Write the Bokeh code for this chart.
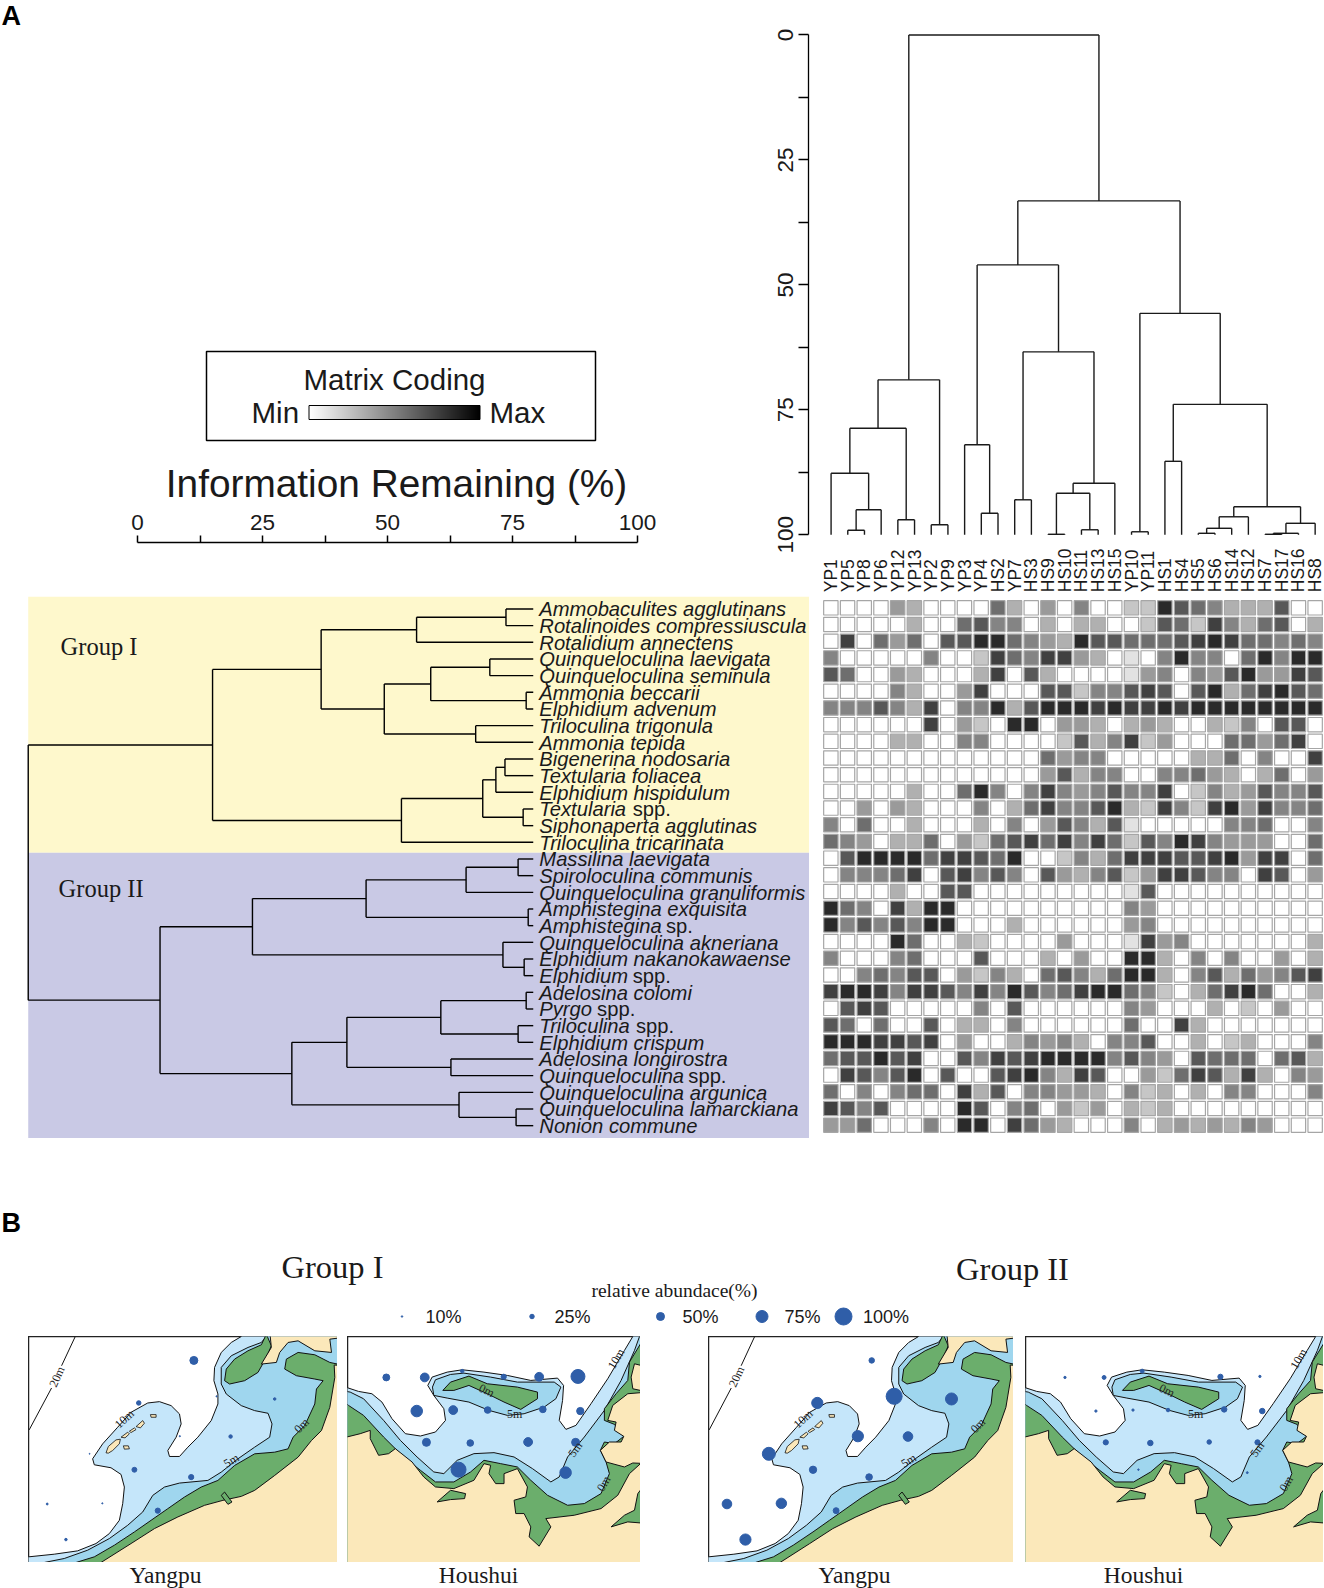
import numpy as np
from bokeh.embed import file_html
from bokeh.resources import INLINE
from bokeh.plotting import figure
from bokeh.layouts import column, row
from bokeh.models import Range1d, FixedTicker, LinearAxis
from bokeh.core.properties import value
from bokeh.palettes import Greys256

SAMPLES = ["YP1","YP5","YP8","YP6","YP12","YP13","YP2","YP9","YP3","YP4","HS2","YP7","HS3","HS9","HS10",
           "HS11","HS13","HS15","YP10","YP11","HS1","HS4","HS5","HS6","HS14","HS12","HS7","HS17","HS16","HS8"]
SAMPLE_MERGES = [(-2,-3,99.1),(1,-4,95.0),(-1,2,87.7),(-5,-6,97.0),(3,4,78.7),(-7,-8,98.0),(5,6,69.0),
    (-10,-11,95.7),(-9,8,82.0),(-12,-13,93.0),(-14,-15,99.9),(-16,-17,99.0),(11,12,91.7),(13,-18,89.7),
    (10,14,63.4),(9,15,46.0),(-19,-20,99.4),(-21,-22,85.3),(-23,-24,99.7),(19,-25,98.7),(20,-26,96.4),
    (-27,-28,99.9),(22,-29,99.7),(23,-30,97.7),(21,24,94.4),(18,25,73.9),(17,26,55.7),(16,27,33.2),(7,28,0.0)]

SPECIES = ["Ammobaculites agglutinans","Rotalinoides compressiuscula","Rotalidium annectens","Quinqueloculina laevigata",
    "Quinqueloculina seminula","Ammonia beccarii","Elphidium advenum","Triloculina trigonula","Ammonia tepida",
    "Bigenerina nodosaria","Textularia foliacea","Elphidium hispidulum","Textularia","Siphonaperta agglutinas",
    "Triloculina tricarinata","Massilina laevigata","Spiroloculina communis","Quinqueloculina granuliformis",
    "Amphistegina exquisita","Amphistegina","Quinqueloculina akneriana","Elphidium nakanokawaense","Elphidium",
    "Adelosina colomi","Pyrgo","Triloculina","Elphidium crispum","Adelosina longirostra","Quinqueloculina",
    "Quinqueloculina argunica","Quinqueloculina lamarckiana","Nonion commune"]
SUFFIX = {12:("spp.",93.4),19:("sp.",126.7),22:("spp.",93.4),24:("spp.",57.8),25:("spp.",96.7),28:("spp.",149.0)}
SPECIES_MERGES = [(-1,-2,94.6),(1,-3,76.9),(-4,-5,91.4),(-6,-7,98.6),(3,4,79.7),(-8,-9,88.6),(5,6,70.5),(2,7,58.0),
    (-10,-11,94.4),(9,-12,92.6),(-13,-14,98.0),(10,11,90.0),(12,-15,73.9),(8,13,36.5),(-16,-17,97.0),(15,-18,86.7),
    (-19,-20,99.0),(16,17,66.9),(-22,-23,98.2),(-21,19,94.0),(18,20,44.4),(-24,-25,98.6),(-26,-27,97.0),(22,23,81.7),
    (-28,-29,83.7),(24,25,63.1),(-31,-32,96.6),(-30,27,85.3),(26,28,52.2),(21,29,26.1),(14,30,0.0)]

# darkness of each matrix cell, 0 (min) .. 9 (max)
MATRIX = [
"0000430000 6304050022 9765333700","0000030067 5503033002 7628536703","0806460779 9654397766 6789866565",
"5000005002 8658843010 5955069599","7600430003 8073000014 5054794487","0000530048 0007725578 7079368976",
"5557538055 9379998988 9899999999","0000008042 0990443034 3003250770","0000330055 0000273582 4000664680",
"0000000000 0006455000 0033605008","0000000000 0004735500 5564303604","0000030069 5058545755 8025347557",
"0040430005 0368557932 8528948556","5060030003 0504753710 0000556005","6540336042 6786858627 5985444006",
"0799996887 6900253688 8778948806","0555680785 7507435724 8875508704","0000300770 0000000017 0000000000",
"9650839900 0000000054 0000000000","9575759900 0300000045 0000000000","0000960032 0000400018 4500000003",
"5000560007 0003040099 3050500403","0056577042 5306753699 3057364578","8998588758 5975689965 2036896003",
"0787000005 0700000054 0003020400","7606007033 0500000060 0830000000","9998878040 0354530557 0030230005",
"6779780075 8789999575 4076660673","0875790700 7895387004 2687383054","6050566083 7055443052 3030550005",
"8757000097 0560424032 3000000000","4460005099 0864300050 3434354000"]
GRAYS = ["#ffffff","#e2e2e2","#c6c6c6","#b0b0b0","#9a9a9a","#848484","#6e6e6e","#585858","#404040","#2a2a2a"]

YP_X = [518,353,760,586,628,476,206,340,510,410,244,79,135]
YP_Y = [89,217,205,197,318,317,370,418,440,541,519,521,628]
YP_GROUP1 = [50,25,15,8,20,8,6,28,30,30,8,12,15]
YP_GROUP2 = [32,70,75,95,60,70,80,45,40,35,65,60,70]
HS_X = [138,253,365,489,595,711,229,338,441,606,718,258,389,562,704,354,674]
HS_Y = [141,141,122,139,139,138,242,239,239,237,242,336,338,335,336,418,427]
HS_GROUP1 = [42,55,20,30,55,85,72,55,40,40,45,50,40,55,50,90,72]
HS_GROUP2 = [14,22,22,0,30,14,14,14,20,32,32,30,32,25,30,10,12]
LEGEND_PCT = [10,25,50,75,100]

YP_10M = [(660,17),(630,35),(600,65),(580,110),(578,150),(590,190),(590,220),(570,270),(530,320),(500,350),(475,378),(445,378),(440,360),(465,320),(480,280),(475,250),(450,225),(415,213),(380,217),(330,245),(290,290),(245,340),(215,385),(220,403),(270,412),(300,432),(310,470),(305,520),(295,570),(265,610),(225,640),(170,662),(100,672),(23,680),(0,684),(0,720),(980,720),(980,0),(660,0)]
YP_5M = [(735,0),(735,17),(720,35),(680,50),(630,75),(600,110),(600,160),(615,190),(660,225),(700,240),(740,248),(752,280),(745,320),(700,350),(650,385),(600,425),(560,450),(475,458),(430,470),(395,495),(365,545),(320,585),(265,625),(200,660),(130,685),(70,697),(70,720),(980,720),(980,0)]
YP_GREEN = [(980,104),(948,100),(925,95),(880,72),(830,65),(795,85),(790,115),(825,135),(880,145),(905,150),(885,175),(880,220),(850,285),(815,320),(800,355),(760,365),(700,370),(640,405),(590,450),(540,470),(490,500),(440,535),(390,570),(340,605),(280,645),(220,680),(165,697),(165,720),(980,720)]
YP_LAND = [(225,720),(240,697),(330,640),(400,595),(470,560),(550,525),(605,510),(660,498),(700,480),(760,435),(830,380),(870,330),(900,300),(925,230),(940,140),(938,103),(980,104),(980,720)]
YP_LAND_N = [(745,0),(750,50),(720,100),(765,95),(775,65),(800,35),(830,30),(880,60),(930,65),(925,25),(980,18),(980,0)]
YP_PENINSULA = [(735,10),(750,45),(735,80),(710,125),(670,150),(625,160),(610,150),(615,115),(640,85),(680,60),(720,42)]
YP_SPIT = [(600,495),(610,485),(632,515),(620,522)]
YP_ISLES = [[(255,367),(262,348),(285,328),(298,326),(295,340),(275,360),(262,368)],[(300,320),(320,305),(325,310),(312,322)],
            [(325,302),(340,292),(345,297),(330,306)],[(345,288),(365,270),(370,278),(358,292)],
            [(388,252),(405,252),(405,260),(390,260)],[(307,346),(322,346),(325,355),(310,356)]]
YP_20M_X, YP_20M_Y = [[25,92],[122,163]], [[298,172],[105,17]]

HS_10M = [(0,175),(22,172),(55,183),(95,190),(125,215),(155,265),(195,310),(240,317),(285,305),(315,270),(310,235),(280,195),(262,165),(275,140),(320,125),(365,118),(430,125),(500,135),(570,150),(650,143),(668,165),(665,210),(655,270),(675,297),(705,285),(750,220),(800,145),(850,60),(875,18),(880,0),(920,0),(920,720),(0,720)]
HS_5M_ISLAND = [(276,170),(285,148),(330,132),(370,128),(450,140),(530,155),(640,155),(660,170),(645,205),(610,230),(550,250),(500,255),(445,240),(385,215),(320,203),(280,195)]
HS_5M = [(0,180),(30,185),(70,205),(130,270),(180,330),(230,380),(280,425),(310,430),(350,390),(400,370),(460,367),(520,380),(575,415),(630,455),(655,440),(680,380),(730,320),(790,240),(840,150),(880,60),(895,18),(920,0),(920,720),(0,720)]
HS_GREEN = [(0,205),(25,225),(70,255),(130,320),(190,380),(240,420),(285,455),(340,455),(390,425),(430,390),(480,400),(530,410),(570,450),(620,495),(680,525),(730,520),(780,490),(805,430),(795,395),(778,360),(790,335),(820,340),(848,318),(820,282),(790,270),(790,235),(825,190),(860,150),(865,95),(898,40),(920,30),(920,720),(0,720)]
HS_LAND = [(0,325),(60,310),(90,300),(90,325),(115,375),(145,370),(165,355),(215,395),(250,440),(285,470),(340,475),(400,450),(430,400),(450,405),(445,430),(465,460),(490,460),(490,430),(530,415),(560,470),(555,500),(520,510),(525,550),(550,550),(570,590),(565,620),(595,648),(630,590),(615,565),(700,555),(780,535),(830,495),(865,430),(898,400),(920,400),(920,720),(0,720)]
HS_LAND_E = [(920,185),(860,190),(815,225),(800,270),(825,275),(820,300),(848,318),(840,335),(805,335),(778,360),(795,395),(850,410),(875,398),(920,400)]
HS_LAND_NE = [(920,110),(880,100),(870,140),(875,175),(920,185)]
HS_SPIT = [(290,515),(330,480),(375,490),(372,505),(330,508)]
HS_PATCH = [(810,590),(850,555),(880,540),(890,490),(920,450),(920,580),(860,575)]
HS_ISLAND = [(307,180),(330,155),(385,137),(440,160),(530,170),(590,185),(590,205),(540,237),(490,215),(440,190),(385,165),(340,180)]
YP_TAGS = [("20m",108,138,1.15),("10m",310,265,0.75),("5m",630,390,0.55),("0m",840,285,0.8)]
HS_TAGS = [("0m",438,180,-0.45),("5m",522,252,0.0),("10m",825,85,1.05),("5m",703,357,0.95),("0m",788,460,1.05)]

SANS, SERIF = "Liberation Sans", "Liberation Serif"
LIGHT, MID, GREEN, LAND, DOT = "#c5e6fa", "#9fd6ee", "#6bae6c", "#fbe8ba", "#2f5ea8"


def tree_segments(merges, n_leaves_height):
    """hclust-style merge table -> U shaped segments (position, height)."""
    pos, hgt, seg = {}, {}, []
    for k, (a, b, h) in enumerate(merges, 1):
        pa = -a - 1 if a < 0 else pos[a]
        pb = -b - 1 if b < 0 else pos[b]
        ha = n_leaves_height if a < 0 else hgt[a]
        hb = n_leaves_height if b < 0 else hgt[b]
        seg += [(pa, ha, pa, h), (pa, h, pb, h), (pb, h, pb, hb)]
        pos[k], hgt[k] = (pa + pb) / 2, h
    return np.array(seg, dtype=float)


def bare(w, h, xr, yr, **kw):
    p = figure(width=w, height=h, x_range=xr, y_range=yr, x_axis_type=None, y_axis_type=None,
               toolbar_location=None, output_backend="svg", outline_line_color=None, min_border=0,
               frame_align=False, **kw)
    p.grid.visible = False
    return p


def txt(p, x, y, s, font=SANS, size=18, align="left", base="middle", style="normal", color="#1a1a1a", angle=0):
    p.text([x], [y], [s], text_font=value(font), text_font_size=f"{size}px", text_align=align,
           text_baseline=base, text_font_style=style, text_color=color, angle=angle)


# ---- top-left: legend box and title
lg = bare(760, 510, Range1d(0, 760), Range1d(510, 0))
txt(lg, 1, 15, "A", size=27, style="bold", color="black")
lg.quad(left=[206], right=[595], top=[351], bottom=[440], fill_color=None, line_color="black", line_width=1.5)
txt(lg, 394, 379, "Matrix Coding", size=29.5, align="center")
txt(lg, 251, 412, "Min", size=29.5)
txt(lg, 489, 412, "Max", size=29.5)
lg.image(image=[np.linspace(0, 1, 256).reshape(1, -1)], x=308.5, y=405, dw=171, dh=14, palette=list(Greys256[::-1]))
lg.quad(left=[308.5], right=[479.5], top=[405], bottom=[419], fill_color=None, line_color="black", line_width=1)
txt(lg, 396, 483, "Information Remaining (%)", size=38.8, align="center")

ax = figure(width=760, height=86, x_range=Range1d(0, 100), y_range=Range1d(0, 1), x_axis_type=None, y_axis_type=None,
            toolbar_location=None, output_backend="svg", outline_line_color=None, frame_align=False,
            min_border_left=137, min_border_right=123, min_border_top=32, min_border_bottom=0)
ax.grid.visible = False
info_axis = LinearAxis(ticker=FixedTicker(ticks=[0, 25, 50, 75, 100], minor_ticks=[12.5, 37.5, 62.5, 87.5]))
info_axis.major_tick_in = 0; info_axis.major_tick_out = 7; info_axis.minor_tick_in = 0; info_axis.minor_tick_out = 7
info_axis.major_label_text_font = SANS; info_axis.major_label_text_font_size = "22.5px"
info_axis.major_label_text_color = "#1a1a1a"; info_axis.major_label_standoff = 6
info_axis.axis_line_width = 1.5; info_axis.major_tick_line_width = 1.5; info_axis.minor_tick_line_width = 1.5
ax.add_layout(info_axis, "above")
ax.line([0, 100], [0, 0], line_alpha=0)

# ---- top-right: sample dendrogram
tr = figure(width=564, height=596, x_range=Range1d(-1.353, 29.56), y_range=Range1d(112.35, -6.9),
            x_axis_type=None, y_axis_type=None, toolbar_location=None, output_backend="svg", frame_align=False,
            outline_line_color=None, min_border_left=48, min_border_right=0, min_border_top=0, min_border_bottom=0)
tr.grid.visible = False
s = tree_segments(SAMPLE_MERGES, 100.0)
tr.segment(s[:, 0], s[:, 1], s[:, 2], s[:, 3], line_color="#1a1a1a", line_width=1.4)
yax = LinearAxis(ticker=FixedTicker(ticks=[0, 25, 50, 75, 100], minor_ticks=[12.5, 37.5, 62.5, 87.5]), bounds=(0, 100))
yax.major_tick_in = 0; yax.major_tick_out = 10; yax.minor_tick_in = 0; yax.minor_tick_out = 10
yax.major_label_orientation = "vertical"; yax.major_label_text_font = SANS; yax.major_label_text_font_size = "22.5px"
yax.major_label_text_color = "#1a1a1a"; yax.major_label_standoff = 5
yax.axis_line_width = 1.3; yax.major_tick_line_width = 1.3; yax.minor_tick_line_width = 1.3
tr.add_layout(yax, "left")
tr.text(list(range(len(SAMPLES))), [111.5] * len(SAMPLES), SAMPLES, angle=np.pi / 2, text_align="left", text_baseline="middle",
        text_font=value(SANS), text_font_size="17.5px", text_color="#1a1a1a")

# ---- species tree on group bands
sp = bare(809, 542, Range1d(-5.49, 154.7), Range1d(31.77, -0.749))
sp.quad(left=[0], right=[154.7], top=[-0.749], bottom=[14.62], fill_color="#fef8cc", line_color=None)
sp.quad(left=[0], right=[154.7], top=[14.62], bottom=[31.77], fill_color="#c9c9e5", line_color=None)
s = tree_segments(SPECIES_MERGES, 100.0)
sp.segment(s[:, 1], s[:, 0], s[:, 3], s[:, 2], line_color="black", line_width=1.4)
sp.text([101.2] * len(SPECIES), list(range(len(SPECIES))), SPECIES, text_font=value(SANS), text_font_style="italic",
        text_font_size="20.2px", text_baseline="middle", text_color="#1a1a1a", y_offset=0.5)
sp.text([101.2] * len(SUFFIX), list(SUFFIX), [v[0] for v in SUFFIX.values()], x_offset=[v[1] for v in SUFFIX.values()],
        text_font=value(SANS), text_font_size="20.2px", text_baseline="middle", text_color="#1a1a1a", y_offset=0.5)
txt(sp, 6.4, 2.25, "Group I", font=SERIF, size=24.5)
txt(sp, 6.0, 16.8, "Group II", font=SERIF, size=24.5)

# ---- heat matrix
cells = [(c, r, GRAYS[int(ch)]) for r, line in enumerate(MATRIX) for c, ch in enumerate(line.replace(" ", ""))]
hm = figure(width=515, height=542, x_range=Range1d(-0.5, 29.5), y_range=Range1d(31.5, -0.5), x_axis_type=None, y_axis_type=None,
            toolbar_location=None, output_backend="svg", outline_line_color=None, frame_align=False,
            min_border_left=13, min_border_right=1, min_border_top=3, min_border_bottom=5)
hm.grid.visible = False
hm.rect([c[0] for c in cells], [c[1] for c in cells], width=0.86, height=0.86, fill_color=[c[2] for c in cells],
        line_color="#a6a6a6", line_width=1.2)

# ---- section B header
hd = bare(1324, 198, Range1d(0, 1324), Range1d(1336, 1138))
txt(hd, 1, 1222, "B", size=27, style="bold", color="black")
txt(hd, 332, 1266, "Group I", font=SERIF, size=32.5, align="center")
txt(hd, 1012, 1268, "Group II", font=SERIF, size=32.5, align="center")
txt(hd, 674, 1290, "relative abundace(%)", font=SERIF, size=19.5, align="center")


def dot_size(pct):
    return np.interp(pct, [0, 10, 25, 50, 75, 100], [0, 1.5, 4.5, 8, 12, 17])


hd.scatter([401.5, 531.5, 660, 761.5, 843], [1316] * 5, size=dot_size(LEGEND_PCT), color=DOT)
for x, pct in zip([425, 554, 682, 784, 862.5], LEGEND_PCT):
    txt(hd, x, 1316, f"{pct}%", size=18)


def poly(p, pts, fill, line="#111111", lw=1.0):
    xs, ys = zip(*pts)
    p.patch(list(xs), list(ys), fill_color=fill, line_color=line, line_width=lw)


def tags(p, items):
    for t, x, y, a in items:
        p.text([x], [y], [t], angle=a, text_font=value(SERIF), text_font_size="12px", text_align="center",
               text_baseline="middle", text_color="#222222")


def yangpu(w, pct):
    p = bare(w, 226, Range1d(23, 948), Range1d(697, 17))
    p.multi_line(YP_20M_X, YP_20M_Y, line_color="#111111", line_width=1)
    poly(p, YP_10M, LIGHT)
    poly(p, YP_5M, MID)
    poly(p, YP_GREEN, GREEN)
    poly(p, YP_PENINSULA, GREEN)
    poly(p, YP_LAND, LAND)
    poly(p, YP_LAND_N, LAND)
    poly(p, YP_SPIT, GREEN)
    for isle in YP_ISLES:
        poly(p, isle, LAND, lw=0.8)
    p.scatter(YP_X, YP_Y, size=dot_size(pct), color=DOT)
    tags(p, YP_TAGS)
    p.outline_line_color = "#222222"; p.outline_line_width = 1.5
    return p


def houshui(w, pct):
    p = bare(w, 226, Range1d(22, 898), Range1d(697, 18))
    poly(p, HS_10M, LIGHT)
    poly(p, HS_5M_ISLAND, MID)
    poly(p, HS_5M, MID)
    poly(p, HS_GREEN, GREEN)
    poly(p, HS_ISLAND, GREEN)
    poly(p, HS_LAND, LAND)
    poly(p, HS_LAND_E, LAND)
    poly(p, HS_LAND_NE, LAND)
    poly(p, HS_SPIT, GREEN)
    poly(p, HS_PATCH, GREEN)
    p.scatter(HS_X, HS_Y, size=dot_size(pct), color=DOT)
    tags(p, HS_TAGS)
    p.outline_line_color = "#222222"; p.outline_line_width = 1.5
    return p


m1 = yangpu(309, YP_GROUP1); m1.margin = (0, 0, 0, 28)
m2 = houshui(293, HS_GROUP1); m2.margin = (0, 0, 0, 10)
m3 = yangpu(305, YP_GROUP2); m3.margin = (0, 0, 0, 68)
m4 = houshui(298, HS_GROUP2); m4.margin = (0, 0, 0, 12)

ft = bare(1324, 26, Range1d(0, 1324), Range1d(1588, 1562))
for x, name in [(165, "Yangpu"), (478, "Houshui"), (854, "Yangpu"), (1143, "Houshui")]:
    txt(ft, x, 1574, name, font=SERIF, size=23.5, align="center", base="alphabetic")

page = column(row(column(lg, ax, spacing=0), tr, spacing=0), row(sp, hm, spacing=0), hd, row(m1, m2, m3, m4, spacing=0), ft,
              spacing=0)
open("out.html", "w").write(file_html(page, INLINE))
